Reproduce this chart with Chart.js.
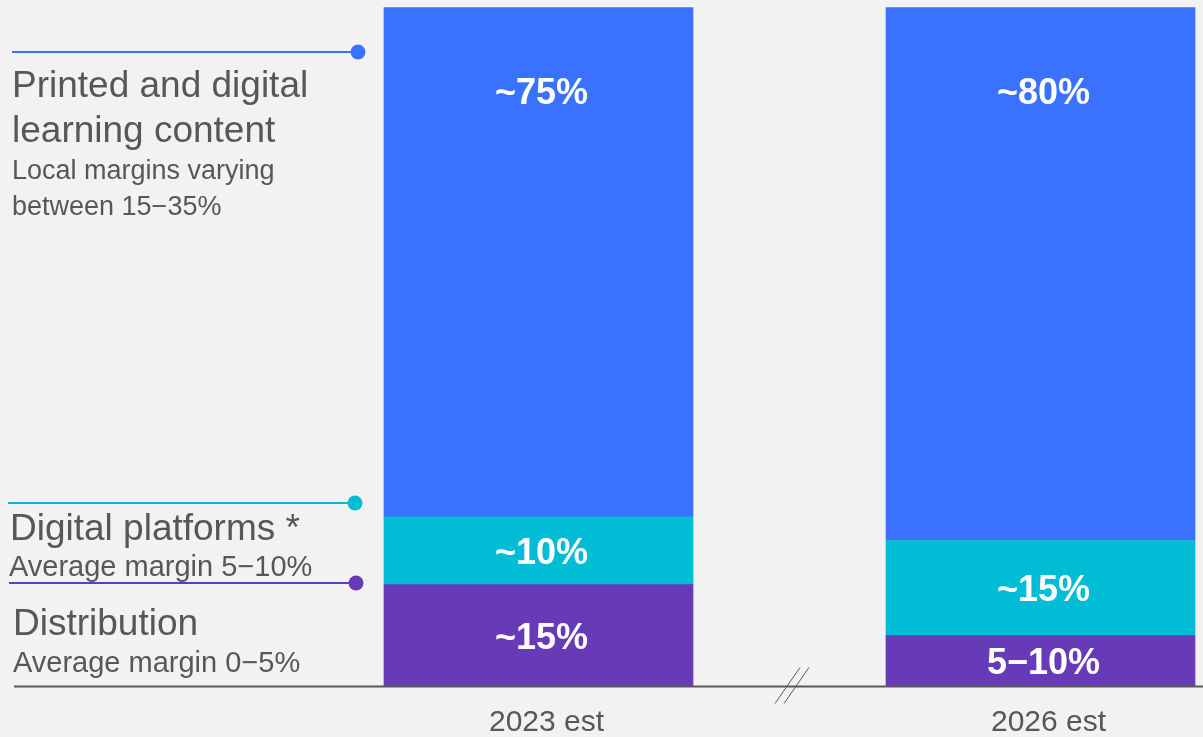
<!DOCTYPE html>
<html>
<head>
<meta charset="utf-8">
<script src="https://cdn.jsdelivr.net/npm/chart.js@4.4.0/dist/chart.umd.min.js"></script>
<style>
  html, body { margin: 0; padding: 0; background: #f2f2f2; }
  #wrap { width: 1203px; height: 737px; position: relative; }
  canvas { display: block; }
</style>
</head>
<body>
<div id="wrap"><canvas id="chart" width="1203" height="737"></canvas></div>
<script>
// Revenue split by segment (share of total, %)
const categories = ['2023 est', '2026 est'];
const distribution = [15, 7.5];
const digitalPlatforms = [10, 14];
const learningContent = [75, 78.5];

// Value labels shown inside each segment
const distributionLabels = ['~15%', '5−10%'];
const platformLabels = ['~10%', '~15%'];
const contentLabels = ['~75%', '~80%'];

// Segment descriptions on the left
const contentNote = ['Printed and digital', 'learning content', 'Local margins varying', 'between 15−35%'];
const platformNote = ['Digital platforms *', 'Average margin 5−10%'];
const distributionNote = ['Distribution', 'Average margin 0−5%'];

const COLORS = { content: '#3a72ff', platforms: '#00bcd4', distribution: '#673ab7' };
const FONT = '"Liberation Sans", Arial, sans-serif';
const TEXT = '#575757';

const background = {
  id: 'background',
  beforeDraw(chart) {
    const ctx = chart.ctx;
    ctx.save();
    ctx.fillStyle = '#f2f2f2';
    ctx.fillRect(0, 0, chart.width, chart.height);
    ctx.restore();
  }
};

// Baseline with a break mark between the two years
const baseline = {
  id: 'baseline',
  afterDatasetsDraw(chart) {
    const ctx = chart.ctx;
    const y = chart.scales.y.getPixelForValue(0);
    const x0 = chart.scales.x.getPixelForValue(0);
    const x1 = chart.scales.x.getPixelForValue(1);
    ctx.save();
    ctx.strokeStyle = '#595959';
    ctx.lineWidth = 2;
    ctx.beginPath();
    ctx.moveTo(14, y);
    ctx.lineTo(chart.width, y);
    ctx.stroke();
    const mx = (x0 + x1) / 2 + 2.5;
    ctx.lineWidth = 1;
    [-4.5, 4.5].forEach(dx => {
      ctx.beginPath();
      ctx.moveTo(mx + dx - 12.5, y + 17);
      ctx.lineTo(mx + dx + 12.5, y - 19);
      ctx.stroke();
    });
    ctx.restore();
  }
};

// White value labels inside the bar segments
const segmentLabels = {
  id: 'segmentLabels',
  afterDatasetsDraw(chart) {
    const ctx = chart.ctx;
    ctx.save();
    ctx.font = 'bold 36px ' + FONT;
    ctx.fillStyle = '#ffffff';
    ctx.textAlign = 'center';
    ctx.textBaseline = 'alphabetic';
    chart.data.datasets.forEach((ds, i) => {
      const meta = chart.getDatasetMeta(i);
      meta.data.forEach((bar, j) => {
        const p = bar.getProps(['x', 'y', 'base'], true);
        const ty = ds.labelAtTop ? p.y + 96 : (p.y + p.base) / 2 + 13;
        ctx.fillText(ds.valueLabels[j], p.x + 3, ty);
      });
    });
    ctx.restore();
  }
};

// Left-hand segment descriptions with leader lines
const notes = {
  id: 'notes',
  afterDraw(chart) {
    const ctx = chart.ctx;
    const items = [
      { color: COLORS.content, lineY: 52, x0: 12, x1: 358,
        text: [[contentNote[0], 37, 97, 12], [contentNote[1], 37, 142, 12], [contentNote[2], 27, 179, 12], [contentNote[3], 27, 215, 12]] },
      { color: COLORS.platforms, lineY: 503, x0: 8, x1: 355,
        text: [[platformNote[0], 37, 540, 10], [platformNote[1], 29, 576, 9]] },
      { color: COLORS.distribution, lineY: 583, x0: 9, x1: 356,
        text: [[distributionNote[0], 37, 635, 13], [distributionNote[1], 29, 672, 13]] }
    ];
    ctx.save();
    ctx.textAlign = 'left';
    ctx.textBaseline = 'alphabetic';
    items.forEach(it => {
      ctx.fillStyle = TEXT;
      it.text.forEach(([t, size, y, x]) => {
        ctx.font = size + 'px ' + FONT;
        ctx.fillText(t, x, y);
      });
      ctx.strokeStyle = it.color;
      ctx.lineWidth = 2;
      ctx.beginPath();
      ctx.moveTo(it.x0, it.lineY);
      ctx.lineTo(it.x1, it.lineY);
      ctx.stroke();
      ctx.fillStyle = it.color;
      ctx.beginPath();
      ctx.arc(it.x1, it.lineY, 7.5, 0, Math.PI * 2);
      ctx.fill();
    });
    ctx.restore();
  }
};

new Chart(document.getElementById('chart'), {
  type: 'bar',
  data: {
    labels: categories,
    datasets: [
      { label: 'Distribution', data: distribution, backgroundColor: COLORS.distribution, valueLabels: distributionLabels },
      { label: 'Digital platforms', data: digitalPlatforms, backgroundColor: COLORS.platforms, valueLabels: platformLabels },
      { label: 'Printed and digital learning content', data: learningContent, backgroundColor: COLORS.content, valueLabels: contentLabels, labelAtTop: true }
    ]
  },
  options: {
    responsive: false,
    animation: false,
    devicePixelRatio: 1,
    layout: { padding: { left: 538.5, right: 162.5, top: 7.5, bottom: 0 } },
    datasets: { bar: { barThickness: 309, borderWidth: 0, clip: false } },
    plugins: { legend: { display: false }, tooltip: { enabled: false } },
    scales: {
      x: {
        stacked: true,
        offset: false,
        grid: { display: false, drawTicks: false },
        border: { display: false },
        ticks: { color: TEXT, font: { family: FONT, size: 30 }, padding: 18, labelOffset: 8, maxRotation: 0, autoSkip: false },
        afterFit: (scale) => { scale.height = 50.5; }
      },
      y: { stacked: true, display: false, min: 0, max: 100 }
    }
  },
  plugins: [background, segmentLabels, baseline, notes]
});
</script>
</body>
</html>
